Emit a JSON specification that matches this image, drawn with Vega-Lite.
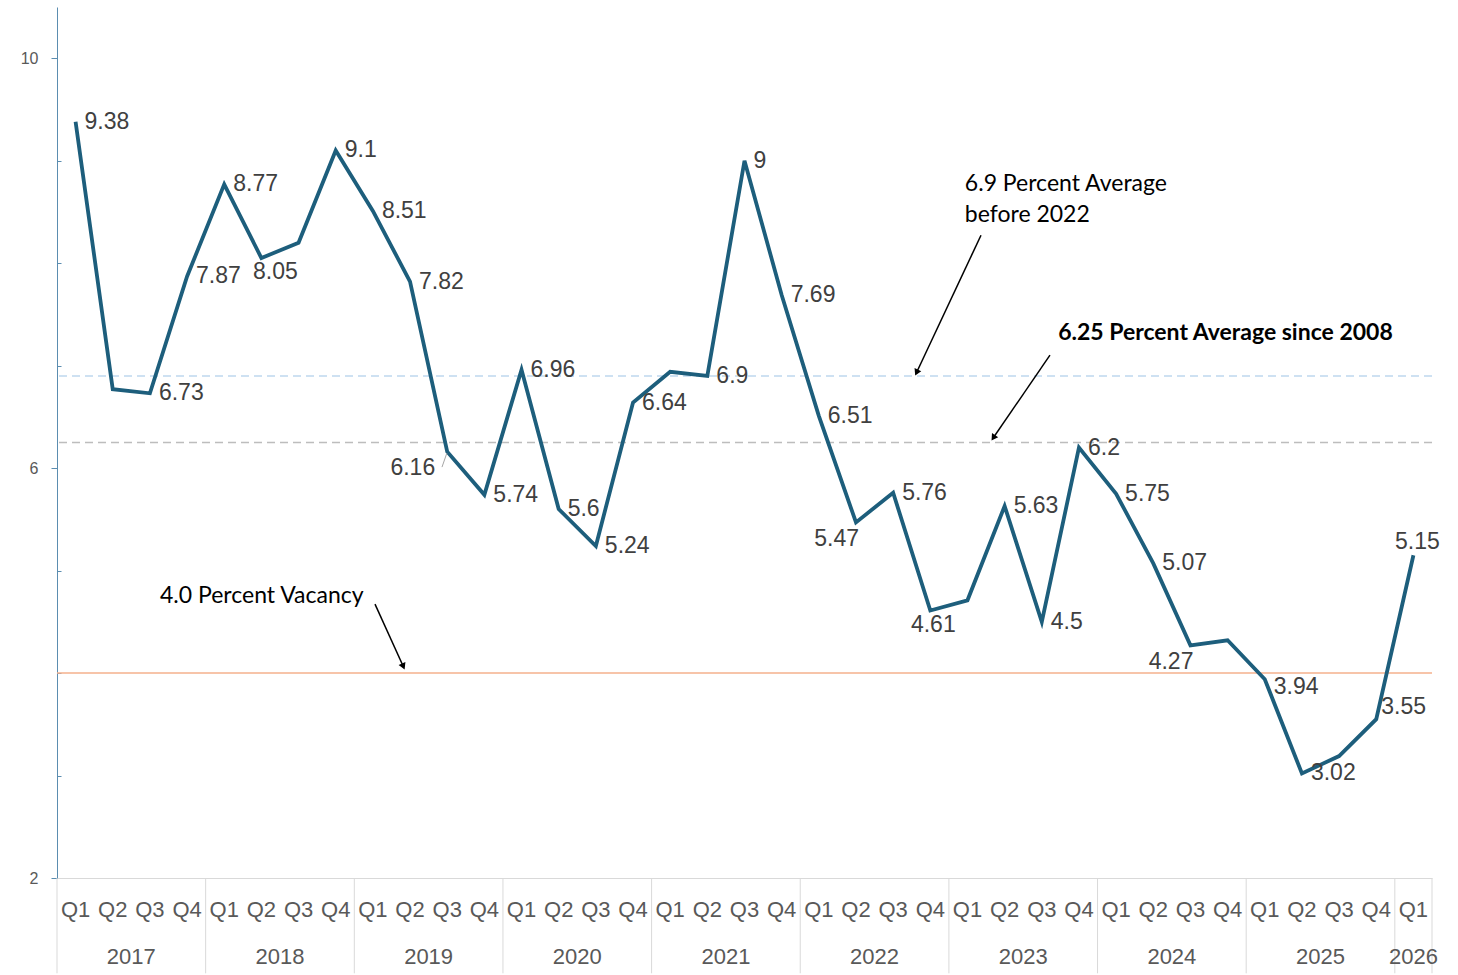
{
  "$schema": "https://vega.github.io/schema/vega-lite/v6.json",
  "width": 1375,
  "height": 871,
  "autosize": {"type": "none"},
  "padding": {"left": 57, "top": 7, "right": 26, "bottom": 97},
  "background": "white",
  "config": {"view": {"stroke": null}, "font": "Liberation Sans"},
  "datasets": {
    "vacancy": [
      {"period": "2017 Q1", "rate": 9.38},
      {"period": "2017 Q2", "rate": 6.77},
      {"period": "2017 Q3", "rate": 6.73},
      {"period": "2017 Q4", "rate": 7.87},
      {"period": "2018 Q1", "rate": 8.77},
      {"period": "2018 Q2", "rate": 8.05},
      {"period": "2018 Q3", "rate": 8.2},
      {"period": "2018 Q4", "rate": 9.1},
      {"period": "2019 Q1", "rate": 8.51},
      {"period": "2019 Q2", "rate": 7.82},
      {"period": "2019 Q3", "rate": 6.16},
      {"period": "2019 Q4", "rate": 5.74},
      {"period": "2020 Q1", "rate": 6.96},
      {"period": "2020 Q2", "rate": 5.6},
      {"period": "2020 Q3", "rate": 5.24},
      {"period": "2020 Q4", "rate": 6.64},
      {"period": "2021 Q1", "rate": 6.94},
      {"period": "2021 Q2", "rate": 6.9},
      {"period": "2021 Q3", "rate": 9},
      {"period": "2021 Q4", "rate": 7.69},
      {"period": "2022 Q1", "rate": 6.51},
      {"period": "2022 Q2", "rate": 5.47},
      {"period": "2022 Q3", "rate": 5.76},
      {"period": "2022 Q4", "rate": 4.61},
      {"period": "2023 Q1", "rate": 4.71},
      {"period": "2023 Q2", "rate": 5.63},
      {"period": "2023 Q3", "rate": 4.5},
      {"period": "2023 Q4", "rate": 6.2},
      {"period": "2024 Q1", "rate": 5.75},
      {"period": "2024 Q2", "rate": 5.07},
      {"period": "2024 Q3", "rate": 4.27},
      {"period": "2024 Q4", "rate": 4.32},
      {"period": "2025 Q1", "rate": 3.94},
      {"period": "2025 Q2", "rate": 3.02},
      {"period": "2025 Q3", "rate": 3.19},
      {"period": "2025 Q4", "rate": 3.55},
      {"period": "2026 Q1", "rate": 5.15}
    ],
    "years": [
      {"year": "2017", "first": "2017 Q1", "mid": "2017 Q2", "last": "2017 Q4"},
      {"year": "2018", "first": "2018 Q1", "mid": "2018 Q2", "last": "2018 Q4"},
      {"year": "2019", "first": "2019 Q1", "mid": "2019 Q2", "last": "2019 Q4"},
      {"year": "2020", "first": "2020 Q1", "mid": "2020 Q2", "last": "2020 Q4"},
      {"year": "2021", "first": "2021 Q1", "mid": "2021 Q2", "last": "2021 Q4"},
      {"year": "2022", "first": "2022 Q1", "mid": "2022 Q2", "last": "2022 Q4"},
      {"year": "2023", "first": "2023 Q1", "mid": "2023 Q2", "last": "2023 Q4"},
      {"year": "2024", "first": "2024 Q1", "mid": "2024 Q2", "last": "2024 Q4"},
      {"year": "2025", "first": "2025 Q1", "mid": "2025 Q2", "last": "2025 Q4"},
      {"year": "2026", "first": "2026 Q1", "mid": "2026 Q1", "last": "2026 Q1"}
    ]
  },
  "layer": [
    {
      "layer": [
        {
          "data": {"values": [{}]},
          "mark": {"type": "rule", "color": "#BFD8EE", "strokeWidth": 1.5, "strokeDash": [8, 5]},
          "encoding": {"y": {"datum": 6.9, "type": "quantitative"}}
        },
        {
          "data": {"values": [{}]},
          "mark": {"type": "rule", "color": "#BDBDBD", "strokeWidth": 1.5, "strokeDash": [8, 5]},
          "encoding": {"y": {"datum": 6.25, "type": "quantitative"}}
        },
        {
          "data": {"values": [{}]},
          "mark": {"type": "rule", "color": "#F4B08C", "strokeWidth": 1.5},
          "encoding": {"y": {"datum": 4.0, "type": "quantitative"}}
        },
        {
          "data": {"name": "vacancy"},
          "mark": {"type": "line", "color": "#1D5E7C", "strokeWidth": 3.8, "strokeJoin": "miter"},
          "encoding": {
            "x": {
              "field": "period", "type": "ordinal", "bandPosition": 0.5, "title": null,
              "scale": {"type": "band", "paddingInner": 0, "paddingOuter": 0},
              "axis": {
                "bandPosition": 0.5,
                "labelExpr": "substring(datum.label, 5)",
                "labelAngle": 0,
                "labelAlign": "center",
                "ticks": false,
                "domainColor": "#D9D9D9",
                "domainWidth": 1,
                "labelFontSize": 22,
                "labelColor": "#595959",
                "labelBaseline": "middle",
                "labelPadding": 31,
                "labelFont": "Liberation Sans"
              }
            },
            "y": {
              "field": "rate", "type": "quantitative", "title": null,
              "scale": {"domain": [2, 10.5], "nice": false, "zero": false},
              "axis": {
                "values": [2, 3, 4, 5, 6, 7, 8, 9, 10],
                "format": "d",
                "labelExpr": "datum.value % 4 == 2 ? datum.label : ''",
                "grid": false,
                "domainColor": "#5B8DB0",
                "tickColor": "#5B8DB0",
                "tickSize": {"condition": {"test": "datum.value % 4 == 2", "value": 6}, "value": -4},
                "labelFontSize": 16,
                "labelColor": "#595959",
                "labelPadding": 13,
                "labelFont": "Liberation Sans"
              }
            }
          }
        },
        {
          "data": {"name": "years"},
          "mark": {"type": "rule", "color": "#D9D9D9", "strokeWidth": 1},
          "encoding": {
            "x": {"field": "first", "type": "ordinal", "bandPosition": 0, "title": null, "scale": {"type": "band", "paddingInner": 0, "paddingOuter": 0}},
            "y": {"datum": 2, "type": "quantitative"},
            "y2": {"datum": 1.07}
          }
        },
        {
          "data": {"name": "years"},
          "transform": [{"filter": "datum.year == '2026'"}],
          "mark": {"type": "rule", "color": "#D9D9D9", "strokeWidth": 1},
          "encoding": {
            "x": {"field": "last", "type": "ordinal", "bandPosition": 1, "title": null, "scale": {"type": "band", "paddingInner": 0, "paddingOuter": 0}},
            "y": {"datum": 2, "type": "quantitative"},
            "y2": {"datum": 1.07}
          }
        },
        {
          "data": {"name": "years"},
          "transform": [{"filter": "datum.year != '2026'"}],
          "mark": {"type": "text", "fontSize": 22, "color": "#595959", "align": "center", "baseline": "middle"},
          "encoding": {
            "x": {"field": "mid", "type": "ordinal", "bandPosition": 1, "title": null, "scale": {"type": "band", "paddingInner": 0, "paddingOuter": 0}},
            "y": {"datum": 1.23, "type": "quantitative"},
            "text": {"field": "year"}
          }
        },
        {
          "data": {"name": "years"},
          "transform": [{"filter": "datum.year == '2026'"}],
          "mark": {"type": "text", "fontSize": 22, "color": "#595959", "align": "center", "baseline": "middle"},
          "encoding": {
            "x": {"field": "mid", "type": "ordinal", "bandPosition": 0.5, "title": null, "scale": {"type": "band", "paddingInner": 0, "paddingOuter": 0}},
            "y": {"datum": 1.23, "type": "quantitative"},
            "text": {"field": "year"}
          }
        },
        {
          "data": {"name": "vacancy"},
          "transform": [{"filter": {"field": "period", "oneOf": ["2017 Q1", "2017 Q3", "2017 Q4", "2018 Q1", "2018 Q4", "2019 Q1", "2019 Q2", "2019 Q4", "2020 Q1", "2020 Q2", "2020 Q3", "2020 Q4", "2021 Q2", "2021 Q3", "2021 Q4", "2022 Q1", "2022 Q3", "2023 Q2", "2023 Q3", "2023 Q4", "2024 Q1", "2024 Q2", "2025 Q2"]}}],
          "mark": {"type": "text", "fontSize": 23, "color": "#404040", "align": "left", "baseline": "middle", "dx": 9},
          "encoding": {
            "x": {"field": "period", "type": "ordinal", "bandPosition": 0.5, "title": null, "scale": {"type": "band", "paddingInner": 0, "paddingOuter": 0}},
            "y": {"field": "rate", "type": "quantitative", "title": null},
            "text": {"field": "rate"}
          }
        },
        {
          "data": {"name": "vacancy"},
          "transform": [{"filter": {"field": "period", "oneOf": ["2025 Q1"]}}],
          "mark": {"type": "text", "fontSize": 23, "color": "#404040", "align": "left", "baseline": "middle", "dx": 9, "dy": 8},
          "encoding": {
            "x": {"field": "period", "type": "ordinal", "bandPosition": 0.5, "title": null, "scale": {"type": "band", "paddingInner": 0, "paddingOuter": 0}},
            "y": {"field": "rate", "type": "quantitative", "title": null},
            "text": {"field": "rate"}
          }
        },
        {
          "data": {"name": "vacancy"},
          "transform": [{"filter": {"field": "period", "oneOf": ["2025 Q4"]}}],
          "mark": {"type": "text", "fontSize": 23, "color": "#404040", "align": "left", "baseline": "middle", "dx": 5, "dy": -12},
          "encoding": {
            "x": {"field": "period", "type": "ordinal", "bandPosition": 0.5, "title": null, "scale": {"type": "band", "paddingInner": 0, "paddingOuter": 0}},
            "y": {"field": "rate", "type": "quantitative", "title": null},
            "text": {"field": "rate"}
          }
        },
        {
          "data": {"name": "vacancy"},
          "transform": [{"filter": {"field": "period", "oneOf": ["2018 Q2"]}}],
          "mark": {"type": "text", "fontSize": 23, "color": "#404040", "align": "center", "baseline": "middle", "dx": 14, "dy": 14},
          "encoding": {
            "x": {"field": "period", "type": "ordinal", "bandPosition": 0.5, "title": null, "scale": {"type": "band", "paddingInner": 0, "paddingOuter": 0}},
            "y": {"field": "rate", "type": "quantitative", "title": null},
            "text": {"field": "rate"}
          }
        },
        {
          "data": {"name": "vacancy"},
          "transform": [{"filter": {"field": "period", "oneOf": ["2022 Q4"]}}],
          "mark": {"type": "text", "fontSize": 23, "color": "#404040", "align": "center", "baseline": "middle", "dx": 3, "dy": 14},
          "encoding": {
            "x": {"field": "period", "type": "ordinal", "bandPosition": 0.5, "title": null, "scale": {"type": "band", "paddingInner": 0, "paddingOuter": 0}},
            "y": {"field": "rate", "type": "quantitative", "title": null},
            "text": {"field": "rate"}
          }
        },
        {
          "data": {"name": "vacancy"},
          "transform": [{"filter": {"field": "period", "oneOf": ["2026 Q1"]}}],
          "mark": {"type": "text", "fontSize": 23, "color": "#404040", "align": "center", "baseline": "middle", "dx": 4, "dy": -13},
          "encoding": {
            "x": {"field": "period", "type": "ordinal", "bandPosition": 0.5, "title": null, "scale": {"type": "band", "paddingInner": 0, "paddingOuter": 0}},
            "y": {"field": "rate", "type": "quantitative", "title": null},
            "text": {"field": "rate"}
          }
        },
        {
          "data": {"name": "vacancy"},
          "transform": [{"filter": {"field": "period", "oneOf": ["2022 Q2", "2024 Q3"]}}],
          "mark": {"type": "text", "fontSize": 23, "color": "#404040", "align": "right", "baseline": "middle", "dx": 3, "dy": 17},
          "encoding": {
            "x": {"field": "period", "type": "ordinal", "bandPosition": 0.5, "title": null, "scale": {"type": "band", "paddingInner": 0, "paddingOuter": 0}},
            "y": {"field": "rate", "type": "quantitative", "title": null},
            "text": {"field": "rate"}
          }
        },
        {
          "data": {"name": "vacancy"},
          "transform": [{"filter": {"field": "period", "oneOf": ["2019 Q3"]}}],
          "mark": {"type": "text", "fontSize": 23, "color": "#404040", "align": "right", "baseline": "middle", "dx": -12, "dy": 16},
          "encoding": {
            "x": {"field": "period", "type": "ordinal", "bandPosition": 0.5, "title": null, "scale": {"type": "band", "paddingInner": 0, "paddingOuter": 0}},
            "y": {"field": "rate", "type": "quantitative", "title": null},
            "text": {"field": "rate"}
          }
        }
      ]
    },
    {
      "data": {"values": [{}]},
      "layer": [
        {
          "mark": {"type": "rule", "color": "#A6A6A6", "strokeWidth": 1},
          "encoding": {
            "x": {"datum": 10.36, "type": "quantitative", "scale": {"domain": [0, 37], "nice": false, "zero": false}, "axis": null},
            "x2": {"datum": 10.49},
            "y": {"datum": 6.01, "type": "quantitative"},
            "y2": {"datum": 6.146}
          }
        },
        {
          "mark": {"type": "text", "text": "6.9 Percent Average", "align": "left", "baseline": "middle", "font": "Lato", "fontSize": 23, "color": "#000000"},
          "encoding": {
            "x": {"datum": 24.43, "type": "quantitative", "scale": {"domain": [0, 37], "nice": false, "zero": false}, "axis": null},
            "y": {"datum": 8.77, "type": "quantitative"}
          }
        },
        {
          "mark": {"type": "text", "text": "before 2022", "align": "left", "baseline": "middle", "font": "Lato", "fontSize": 23, "color": "#000000"},
          "encoding": {
            "x": {"datum": 24.43, "type": "quantitative", "scale": {"domain": [0, 37], "nice": false, "zero": false}, "axis": null},
            "y": {"datum": 8.468, "type": "quantitative"}
          }
        },
        {
          "mark": {"type": "text", "text": "6.25 Percent Average since 2008", "align": "left", "baseline": "middle", "font": "Lato", "fontSize": 23, "fontWeight": "bold", "color": "#000000"},
          "encoding": {
            "x": {"datum": 26.94, "type": "quantitative", "scale": {"domain": [0, 37], "nice": false, "zero": false}, "axis": null},
            "y": {"datum": 7.317, "type": "quantitative"}
          }
        },
        {
          "mark": {"type": "text", "text": "4.0 Percent Vacancy", "align": "left", "baseline": "middle", "font": "Lato", "fontSize": 23, "color": "#000000"},
          "encoding": {
            "x": {"datum": 2.772, "type": "quantitative", "scale": {"domain": [0, 37], "nice": false, "zero": false}, "axis": null},
            "y": {"datum": 4.751, "type": "quantitative"}
          }
        },
        {
          "mark": {"type": "rule", "color": "#000000", "strokeWidth": 1.5},
          "encoding": {
            "x": {"datum": 24.864, "type": "quantitative", "scale": {"domain": [0, 37], "nice": false, "zero": false}, "axis": null},
            "x2": {"datum": 23.13},
            "y": {"datum": 8.273, "type": "quantitative"},
            "y2": {"datum": 6.933}
          }
        },
        {
          "mark": {"type": "point", "shape": "triangle-up", "filled": true, "color": "#000000", "opacity": 1, "size": 55, "angle": 205},
          "encoding": {
            "x": {"datum": 23.13, "type": "quantitative", "scale": {"domain": [0, 37], "nice": false, "zero": false}, "axis": null},
            "y": {"datum": 6.933, "type": "quantitative"}
          }
        },
        {
          "mark": {"type": "rule", "color": "#000000", "strokeWidth": 1.5},
          "encoding": {
            "x": {"datum": 26.72, "type": "quantitative", "scale": {"domain": [0, 37], "nice": false, "zero": false}, "axis": null},
            "x2": {"datum": 25.195},
            "y": {"datum": 7.102, "type": "quantitative"},
            "y2": {"datum": 6.296}
          }
        },
        {
          "mark": {"type": "point", "shape": "triangle-up", "filled": true, "color": "#000000", "opacity": 1, "size": 55, "angle": 214},
          "encoding": {
            "x": {"datum": 25.195, "type": "quantitative", "scale": {"domain": [0, 37], "nice": false, "zero": false}, "axis": null},
            "y": {"datum": 6.296, "type": "quantitative"}
          }
        },
        {
          "mark": {"type": "rule", "color": "#000000", "strokeWidth": 1.5},
          "encoding": {
            "x": {"datum": 8.557, "type": "quantitative", "scale": {"domain": [0, 37], "nice": false, "zero": false}, "axis": null},
            "x2": {"datum": 9.319},
            "y": {"datum": 4.673, "type": "quantitative"},
            "y2": {"datum": 4.064}
          }
        },
        {
          "mark": {"type": "point", "shape": "triangle-up", "filled": true, "color": "#000000", "opacity": 1, "size": 55, "angle": 156},
          "encoding": {
            "x": {"datum": 9.319, "type": "quantitative", "scale": {"domain": [0, 37], "nice": false, "zero": false}, "axis": null},
            "y": {"datum": 4.064, "type": "quantitative"}
          }
        }
      ]
    }
  ],
  "resolve": {"scale": {"x": "independent"}}
}
